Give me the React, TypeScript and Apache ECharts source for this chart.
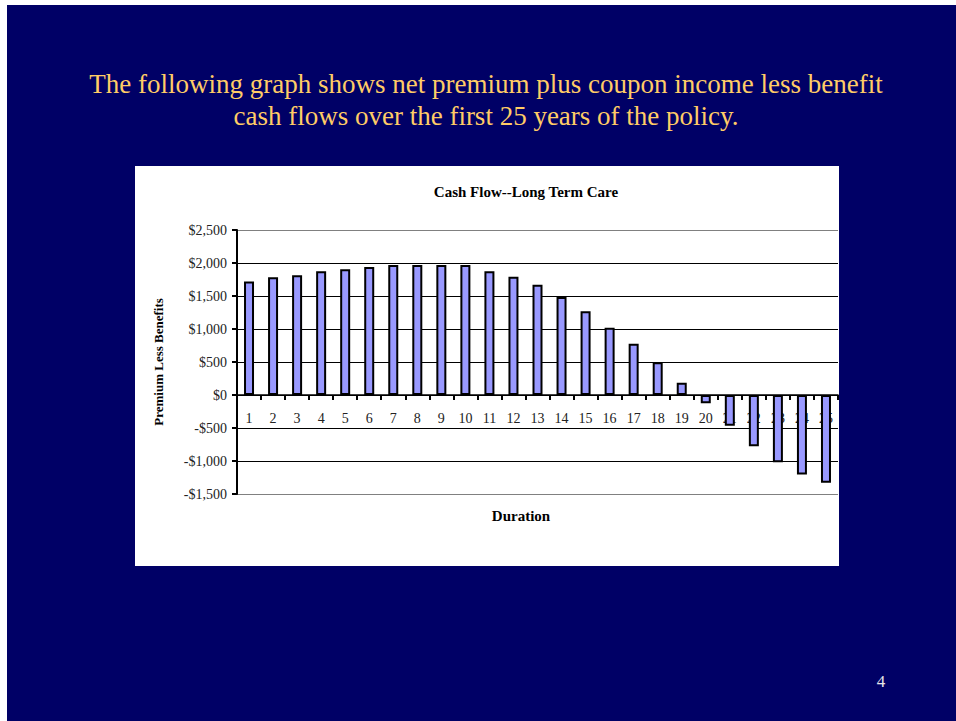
import React, { useEffect, useRef } from "react";
import * as echarts from "echarts";

// Policy years on the horizontal axis
const durations: string[] = Array.from({ length: 25 }, (_, i) => String(i + 1));

// Net premium plus coupon income less benefits, per policy year ($)
const cashFlow: number[] = [
  1720, 1785, 1815, 1875, 1905, 1940, 1970, 1970, 1970, 1970,
  1875, 1790, 1670, 1485, 1270, 1020, 775, 495, 185, -125,
  -465, -775, -1020, -1205, -1330,
];

const yTicks = { min: -1500, max: 2500, interval: 500 };

const headline: string[] = [
  "The following graph shows net premium plus coupon income less benefit",
  "cash flows over the first 25 years of the policy.",
];
const chartTitle = "Cash Flow--Long Term Care";
const xName = "Duration";
const yName = "Premium Less Benefits";
const pageNumber = "4";

const SERIF = "'Liberation Serif', 'Times New Roman', serif";
const OX = 7;
const OY = 5;
const W = 956 - OX;
const H = 721 - OY;

// plot area (relative to the chart container)
const GRID = { left: 237 - OX, top: 230 - OY, right: 956 - 838, bottom: 721 - 494 };

function money(v: number): string {
  const abs = Math.abs(v).toLocaleString("en-US");
  return (v < 0 ? "-$" : "$") + abs;
}

export default function App() {
  const ref = useRef<HTMLDivElement>(null);

  useEffect(() => {
    if (!ref.current) return;
    const chart = echarts.init(ref.current, undefined, { renderer: "svg" });

    const lineCount = (yTicks.max - yTicks.min) / yTicks.interval + 1;
    const splitColors = Array.from({ length: lineCount }, (_, i) =>
      i === 0 || i === lineCount - 1 ? "#808080" : "#000000"
    );

    // lift the category axis (line, ticks, labels) up to the zero line
    const plotH = H - GRID.top - GRID.bottom;
    const zeroFromBottom = (plotH * (0 - yTicks.min)) / (yTicks.max - yTicks.min);

    chart.setOption({
      animation: false,
      backgroundColor: "#000066",
      grid: { ...GRID, containLabel: false },
      xAxis: {
        type: "category",
        data: durations,
        offset: -zeroFromBottom,
        axisLine: { onZero: false, lineStyle: { color: "#000", width: 1.5 } },
        axisTick: { show: true, length: 5, lineStyle: { color: "#000", width: 2 } },
        axisLabel: {
          margin: 16,
          color: "#222",
          fontFamily: SERIF,
          fontSize: 14,
          interval: 0,
        },
        splitLine: { show: false },
      },
      yAxis: {
        type: "value",
        min: yTicks.min,
        max: yTicks.max,
        interval: yTicks.interval,
        name: yName,
        nameLocation: "middle",
        nameRotate: 90,
        nameGap: 72,
        nameTextStyle: {
          color: "#000",
          fontFamily: SERIF,
          fontSize: 13,
          fontWeight: "bold",
        },
        axisLine: { show: true, lineStyle: { color: "#000", width: 2 } },
        axisTick: { show: true, length: 5, lineStyle: { color: "#000", width: 2 } },
        axisLabel: {
          margin: 10,
          color: "#222",
          fontFamily: SERIF,
          fontSize: 14,
          formatter: (v: number) => money(v),
        },
        splitLine: { show: true, lineStyle: { color: splitColors, width: 1 } },
      },
      series: [
        {
          type: "bar",
          data: cashFlow,
          barWidth: 10,
          itemStyle: { color: "#9999FF", borderColor: "#000", borderWidth: 2 },
        },
      ],
      graphic: [
        {
          type: "rect",
          z: -10,
          shape: { x: 135 - OX, y: 166 - OY, width: 839 - 135, height: 566 - 166 },
          style: { fill: "#FFFFFF" },
        },
        ...headline.map((line, i) => ({
          type: "text",
          x: 486 - OX,
          y: 84 + i * 32 - OY,
          style: {
            text: line,
            fill: "#FFCC66",
            font: `27px ${SERIF}`,
            textAlign: "center",
            textVerticalAlign: "middle",
          },
        })),
        {
          type: "text",
          x: 526 - OX,
          y: 192 - OY,
          style: {
            text: chartTitle,
            fill: "#000",
            font: `bold 15px ${SERIF}`,
            textAlign: "center",
            textVerticalAlign: "middle",
          },
        },
        {
          type: "text",
          x: 521 - OX,
          y: 516 - OY,
          style: {
            text: xName,
            fill: "#000",
            font: `bold 15px ${SERIF}`,
            textAlign: "center",
            textVerticalAlign: "middle",
          },
        },
        {
          type: "text",
          x: 881 - OX,
          y: 681 - OY,
          style: {
            text: pageNumber,
            fill: "#E6E6E6",
            font: `17px ${SERIF}`,
            textAlign: "center",
            textVerticalAlign: "middle",
          },
        },
      ],
    });

    return () => chart.dispose();
  }, []);

  return (
    <div
      ref={ref}
      style={{ position: "absolute", left: OX, top: OY, width: W, height: H }}
    />
  );
}
